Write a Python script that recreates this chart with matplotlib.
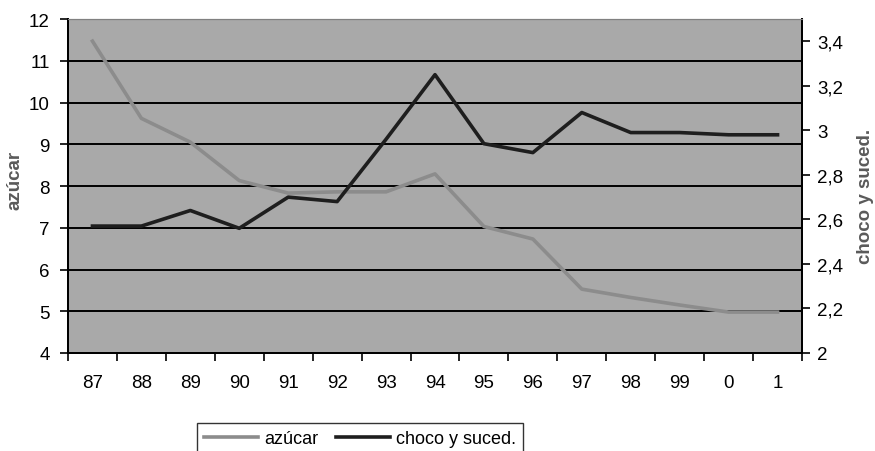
import matplotlib.pyplot as plt
from matplotlib.ticker import FixedLocator, FuncFormatter

plt.rcParams['font.family'] = ['Liberation Sans', 'DejaVu Sans']

# datos
years = ['87', '88', '89', '90', '91', '92', '93', '94', '95', '96', '97', '98', '99', '0', '1']
azucar = [11.47, 9.62, 9.05, 8.13, 7.83, 7.86, 7.86, 8.29, 7.03, 6.73, 5.53, 5.33, 5.15, 4.98, 4.98]
choco = [2.57, 2.57, 2.64, 2.56, 2.70, 2.68, 2.96, 3.25, 2.94, 2.90, 3.08, 2.99, 2.99, 2.98, 2.98]

left_ticks = [4, 5, 6, 7, 8, 9, 10, 11, 12]
right_ticks = [2.0, 2.2, 2.4, 2.6, 2.8, 3.0, 3.2, 3.4]

fig = plt.figure(figsize=(8.75, 4.52), dpi=100)
ax = fig.add_axes([68 / 875, 1 - 354 / 452, (802 - 68) / 875, (354 - 20) / 452])
ax.set_facecolor('#a9a9a9')

x = list(range(len(years)))

# lineas de rejilla
for v in left_ticks[1:-1]:
    ax.axhline(v, color='black', lw=1.4, zorder=1)

l1, = ax.plot(x, azucar, color='#8c8c8c', lw=2.6, zorder=3, label='azúcar')
ax.set_ylim(4, 12)
ax.set_xlim(-0.5, len(years) - 0.5)
ax.set_yticks(left_ticks)
ax.set_ylabel('azúcar', fontsize=13.5, fontweight='bold', color='#5a5a5a')
ax.yaxis.set_label_coords(-0.06, 0.521)

ax.xaxis.set_major_locator(FixedLocator([i - 0.5 for i in range(len(years) + 1)]))
ax.xaxis.set_major_formatter(FuncFormatter(lambda v, p: ''))
ax.xaxis.set_minor_locator(FixedLocator(x))
ax.set_xticklabels(years, minor=True)
ax.tick_params(axis='x', which='major', direction='out', length=6, width=1.2)
ax.tick_params(axis='x', which='minor', length=0, pad=15, labelsize=13.5)
ax.tick_params(axis='y', direction='out', length=6, width=1.2, labelsize=13.5, pad=7)

ax2 = ax.twinx()
l2, = ax2.plot(x, choco, color='#1e1e1e', lw=2.6, zorder=4, label='choco y suced.')
ax2.set_ylim(2, 3.5)
ax2.set_yticks(right_ticks)
ax2.yaxis.set_major_formatter(FuncFormatter(lambda v, p: ('%g' % round(v, 1)).replace('.', ',')))
ax2.tick_params(axis='y', direction='out', length=6, width=1.2, labelsize=13.5, pad=5)
ax2.set_ylabel('choco y suced.', fontsize=13.5, fontweight='bold', color='#5a5a5a', rotation=90)
ax2.yaxis.set_label_coords(1.075, 0.472)

for a in (ax, ax2):
    a.spines['top'].set_color('#808080')
    a.spines['left'].set_linewidth(1.4)
    a.spines['right'].set_linewidth(1.4)
    a.spines['bottom'].set_linewidth(1.4)

leg = fig.legend(handles=[l1, l2], loc='upper center', bbox_to_anchor=(360 / 875, 1 - 424 / 452),
                 ncol=2, frameon=True, fancybox=False, fontsize=13, handlelength=3.0,
                 handletextpad=0.3, columnspacing=1.0, borderpad=0.4, borderaxespad=0)
leg.get_frame().set_edgecolor('black')
leg.get_frame().set_linewidth(1.0)

fig.savefig('out.png', dpi=100, facecolor='white')
